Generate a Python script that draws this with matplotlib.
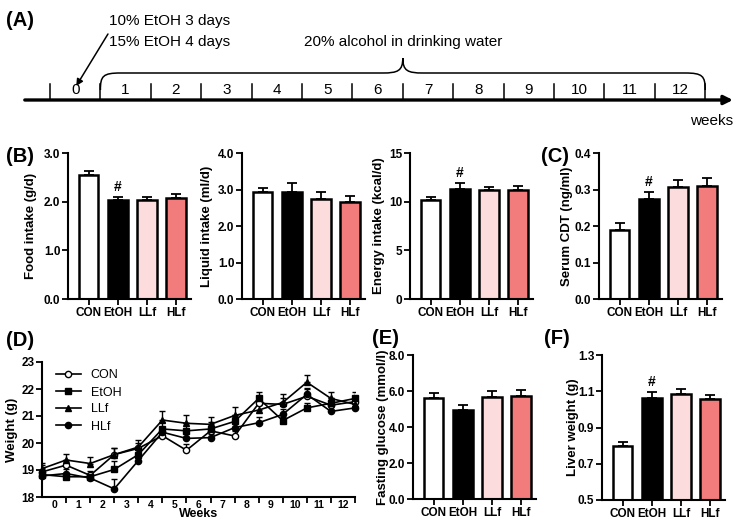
import numpy as np
import matplotlib.pyplot as plt
from matplotlib.path import Path
from matplotlib.patches import PathPatch

plt.rcParams['font.family'] = ['Liberation Sans', 'DejaVu Sans']

W, H = 742, 526

# ---- data ----
groups = ['CON', 'EtOH', 'LLf', 'HLf']
bar_colors = ['white', 'black', '#FCDCDC', '#F27B7B']

food_mean = [2.55, 2.03, 2.04, 2.08]
food_err = [0.07, 0.07, 0.05, 0.07]
liquid_mean = [2.92, 2.92, 2.75, 2.67]
liquid_err = [0.11, 0.25, 0.17, 0.15]
energy_mean = [10.2, 11.3, 11.15, 11.2]
energy_err = [0.3, 0.6, 0.4, 0.45]
cdt_mean = [0.19, 0.275, 0.308, 0.31]
cdt_err = [0.017, 0.019, 0.018, 0.021]
glucose_mean = [5.6, 4.95, 5.65, 5.7]
glucose_err = [0.3, 0.3, 0.35, 0.35]
liver_mean = [0.80, 1.065, 1.085, 1.055]
liver_err = [0.022, 0.032, 0.025, 0.025]

timeline_weeks = list(range(13))
week_labels = [str(w) for w in timeline_weeks]
weight_x = np.arange(14)
weight_con = [18.93, 19.18, 18.80, 19.57, 19.80, 20.27, 19.73, 20.45, 20.26, 21.47, 21.43, 21.73, 21.40, 21.53]
weight_con_err = [0.15, 0.20, 0.15, 0.25, 0.20, 0.20, 0.25, 0.20, 0.20, 0.25, 0.25, 0.30, 0.20, 0.20]
weight_etoh = [18.83, 18.75, 18.75, 19.02, 19.57, 20.52, 20.45, 20.52, 20.80, 21.65, 20.83, 21.30, 21.47, 21.65]
weight_etoh_err = [0.35, 0.15, 0.10, 0.30, 0.20, 0.25, 0.30, 0.25, 0.25, 0.25, 0.15, 0.20, 0.20, 0.25]
weight_llf = [19.05, 19.37, 19.24, 19.57, 19.85, 20.85, 20.73, 20.69, 21.02, 21.22, 21.50, 22.25, 21.65, 21.43]
weight_llf_err = [0.20, 0.22, 0.25, 0.25, 0.25, 0.35, 0.30, 0.28, 0.33, 0.20, 0.30, 0.27, 0.25, 0.25]
weight_hlf = [18.78, 18.87, 18.70, 18.30, 19.35, 20.40, 20.17, 20.20, 20.57, 20.75, 21.06, 21.80, 21.17, 21.30]
weight_hlf_err = [0.15, 0.15, 0.10, 0.35, 0.15, 0.20, 0.20, 0.15, 0.20, 0.22, 0.20, 0.20, 0.15, 0.15]

fig = plt.figure(figsize=(W / 100, H / 100), dpi=100)

TICK_FS = 8.5
LABEL_FS = 9.5


def px_axes(l, t, r, b):
    return fig.add_axes([l / W, 1 - b / H, (r - l) / W, (b - t) / H])


def style_axes(ax):
    for s in ['top', 'right']:
        ax.spines[s].set_visible(False)
    for s in ['left', 'bottom']:
        ax.spines[s].set_linewidth(1.5)
    ax.tick_params(width=1.3, length=4, labelsize=TICK_FS, pad=1.5)
    for lab in ax.get_xticklabels() + ax.get_yticklabels():
        lab.set_fontweight('bold')


def bar_panel(ax, means, errs, ylim, yticks, fmt, hash_mark=False):
    x = np.arange(len(groups))
    ax.bar(x, [m - ylim[0] for m in means], bottom=ylim[0], width=0.68,
           color=bar_colors, edgecolor='black', linewidth=1.8, zorder=2)
    ax.errorbar(x, means, yerr=[np.zeros(len(errs)), errs], fmt='none', ecolor='black',
                elinewidth=1.3, capsize=3.5, capthick=1.3, zorder=3)
    ax.set_xlim(-0.7, 3.5)
    ax.set_ylim(*ylim)
    ax.set_yticks(yticks)
    ax.set_yticklabels([fmt.format(v) for v in yticks])
    ax.set_xticks(x)
    ax.set_xticklabels(groups)
    style_axes(ax)
    if hash_mark:
        pad = (ylim[1] - ylim[0]) * 0.02
        ax.text(1, means[1] + errs[1] + pad, '#', ha='center', va='bottom',
                fontsize=10, fontweight='bold')


def ylabel(x, ax, text):
    pos = ax.get_position()
    fig.text(x / W, pos.y0 + pos.height / 2, text, rotation=90, ha='center', va='center',
             fontsize=LABEL_FS, fontweight='bold')


def panel_label(x, y, text):
    fig.text(x / W, 1 - y / H, text, ha='left', va='center', fontsize=14.5, fontweight='bold')


# ---- (A) timeline ----
axa = px_axes(0, 0, W, 130)
axa.set_xlim(-50 / 50.4, (W - 50) / 50.4)
axa.set_ylim(130, 0)
axa.axis('off')
axa.annotate('', xy=(13.55, 100), xytext=(-0.5, 100),
             arrowprops=dict(arrowstyle='-|>', lw=2.4, color='black', mutation_scale=13,
                             shrinkA=0, shrinkB=0))
for k in range(14):
    axa.plot([k, k], [84, 99], color='black', lw=1.1)
for w, lab in zip(timeline_weeks, week_labels):
    axa.text(w + 0.5, 90, lab, ha='center', va='center', fontsize=11)
axa.text(13.55, 121, 'weeks', ha='right', va='center', fontsize=11)
brace = Path([(1.0, 90), (1.0, 76), (1.05, 73), (1.4, 73),
              (6.6, 73),
              (6.9, 73), (7.0, 71), (7.0, 58),
              (7.0, 71), (7.1, 73), (7.4, 73),
              (12.6, 73),
              (12.95, 73), (13.0, 76), (13.0, 90)],
             [Path.MOVETO, Path.CURVE4, Path.CURVE4, Path.CURVE4,
              Path.LINETO,
              Path.CURVE4, Path.CURVE4, Path.CURVE4,
              Path.CURVE4, Path.CURVE4, Path.CURVE4,
              Path.LINETO,
              Path.CURVE4, Path.CURVE4, Path.CURVE4])
axa.add_patch(PathPatch(brace, facecolor='none', edgecolor='black', lw=1.1))
axa.text(7.0, 42, '20% alcohol in drinking water', ha='center', va='center', fontsize=11)
axa.text(1.18, 21, '10% EtOH 3 days', ha='left', va='center', fontsize=11)
axa.text(1.18, 42, '15% EtOH 4 days', ha='left', va='center', fontsize=11)
axa.annotate('', xy=(0.52, 86), xytext=(1.15, 34),
             arrowprops=dict(arrowstyle='-|>', lw=1.1, color='black', mutation_scale=10,
                             shrinkA=0, shrinkB=0))
panel_label(6, 20, '(A)')

# ---- (B) intake panels ----
ax_food = px_axes(68, 153, 191, 299)
bar_panel(ax_food, food_mean, food_err, (0, 3), [0, 1, 2, 3], '{:.1f}', hash_mark=True)
ylabel(31, ax_food, 'Food intake (g/d)')

ax_liq = px_axes(242, 153, 365, 299)
bar_panel(ax_liq, liquid_mean, liquid_err, (0, 4), [0, 1, 2, 3, 4], '{:.1f}')
ylabel(207, ax_liq, 'Liquid intake (ml/d)')

ax_en = px_axes(410, 153, 533, 299)
bar_panel(ax_en, energy_mean, energy_err, (0, 15), [0, 5, 10, 15], '{:.0f}', hash_mark=True)
ylabel(379, ax_en, 'Energy intake (kcal/d)')
panel_label(6, 157, '(B)')

# ---- (C) serum CDT ----
ax_cdt = px_axes(599, 153, 722, 299)
bar_panel(ax_cdt, cdt_mean, cdt_err, (0, 0.4), [0, 0.1, 0.2, 0.3, 0.4], '{:.1f}', hash_mark=True)
ylabel(567, ax_cdt, 'Serum CDT (ng/ml)')
panel_label(541, 157, '(C)')

# ---- (D) body weight ----
axd = px_axes(42, 362, 355, 497)
series = [('CON', weight_con, weight_con_err, 'o', 'white'),
          ('EtOH', weight_etoh, weight_etoh_err, 's', 'black'),
          ('LLf', weight_llf, weight_llf_err, '^', 'black'),
          ('HLf', weight_hlf, weight_hlf_err, 'o', 'black')]
for name, vals, errs, mk, mfc in series:
    axd.errorbar(weight_x, vals, yerr=[np.zeros(len(errs)), errs], fmt='none', ecolor='black',
                 elinewidth=1.0, capsize=2.5, capthick=1.0, zorder=2)
    axd.plot(weight_x, vals, color='black', lw=1.2, marker=mk, markersize=4.5,
             markerfacecolor=mfc, markeredgecolor='black', markeredgewidth=1.0,
             label=name, zorder=3, clip_on=False)
axd.set_xlim(0, 13)
axd.set_ylim(18, 23)
axd.set_yticks([18, 19, 20, 21, 22, 23])
axd.set_xticks(np.arange(1, 14))
axd.set_xticklabels([])
axd.set_xticks(np.arange(13) + 0.5, minor=True)
axd.set_xticklabels(week_labels, minor=True)
style_axes(axd)
axd.tick_params(axis='x', which='minor', length=0, labelsize=7.5, pad=2)
for lab in axd.get_xticklabels(minor=True):
    lab.set_fontweight('bold')
axd.set_xlabel('Weeks', fontsize=9, fontweight='bold', labelpad=-1)
leg = axd.legend(loc='upper left', frameon=False, fontsize=9, handlelength=2.0,
                 labelspacing=0.4, borderaxespad=0.2, bbox_to_anchor=(0.02, 1.0))
ylabel(12, axd, 'Weight (g)')
panel_label(6, 340, '(D)')

# ---- (E) fasting glucose ----
ax_glu = px_axes(413, 355, 536, 499)
bar_panel(ax_glu, glucose_mean, glucose_err, (0, 8), [0, 2, 4, 6, 8], '{:.1f}')
ylabel(383, ax_glu, 'Fasting glucose (mmol/l)')
panel_label(372, 338, '(E)')

# ---- (F) liver weight ----
ax_liv = px_axes(602, 355, 725, 500)
bar_panel(ax_liv, liver_mean, liver_err, (0.5, 1.3), [0.5, 0.7, 0.9, 1.1, 1.3], '{:.1f}', hash_mark=True)
ylabel(573, ax_liv, 'Liver weight (g)')
panel_label(544, 338, '(F)')

fig.savefig('out.png', dpi=100)
